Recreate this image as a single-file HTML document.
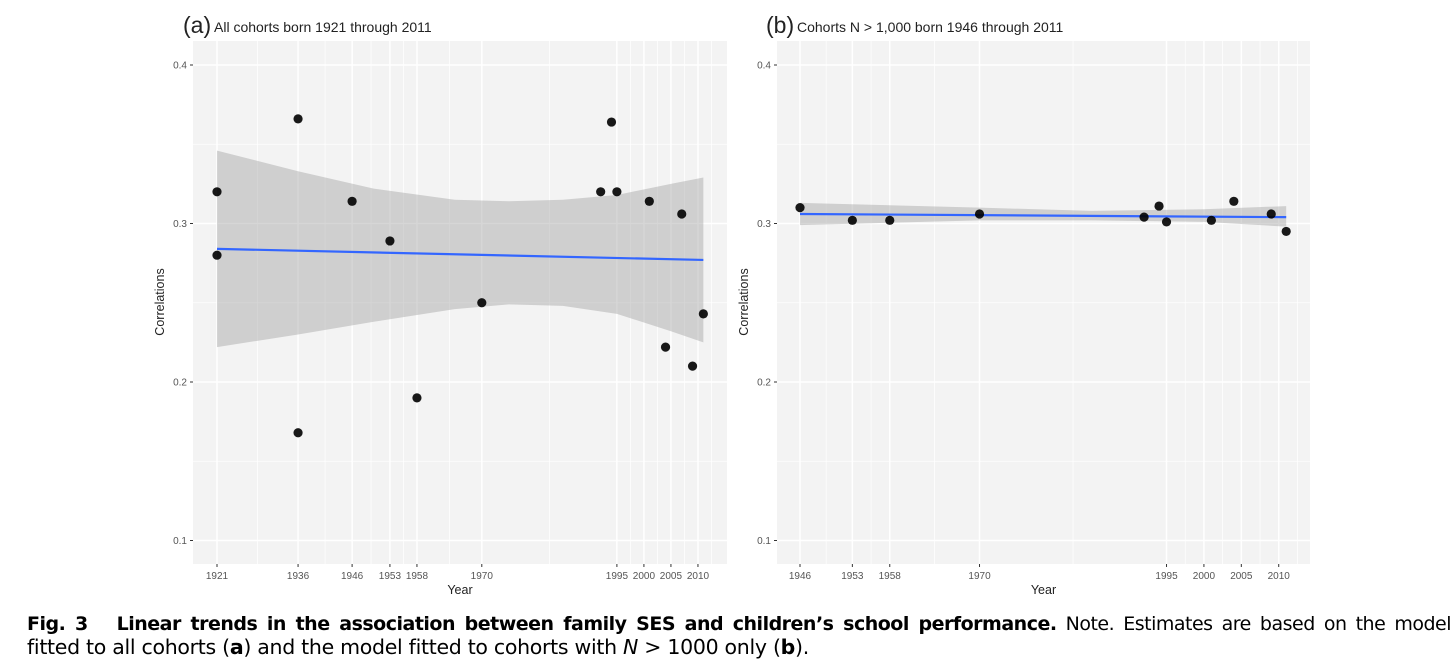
<!DOCTYPE html>
<html><head><meta charset="utf-8">
<style>
body{margin:0;background:#fff;width:1456px;height:672px;overflow:hidden;font-family:"Liberation Sans",sans-serif;}
#cap{position:absolute;left:27px;top:613px;width:1424px;line-height:23px;color:#000;font-family:"DejaVu Sans","Liberation Sans",sans-serif;letter-spacing:-0.3px}
#cap .l1{text-align:justify;text-align-last:justify;white-space:nowrap}
</style></head><body>
<svg id="chart" width="1456" height="600" style="position:absolute;left:0;top:0"></svg>
<div id="cap">
<div class="l1" style="font-size:19px;letter-spacing:-0.5px"><b>Fig. 3&nbsp;&nbsp;&nbsp;Linear trends in the association between family SES and children’s school performance.</b> Note. Estimates are based on the model</div>
<div style="font-size:20.5px">fitted to all cohorts (<b>a</b>) and the model fitted to cohorts with <i>N</i> &gt; 1000 only (<b>b</b>).</div>
</div>
<script>
// Panel A data
const aBreaks=[1921,1936,1946,1953,1958,1970,1995,2000,2005,2010];
const aYears=[1921,1921,1936,1936,1946,1953,1958,1970,1992,1994,1995,2001,2004,2007,2009,2011];
const aVals=[0.320,0.280,0.366,0.168,0.314,0.289,0.190,0.250,0.320,0.364,0.320,0.314,0.222,0.306,0.210,0.243];
const aFitYears=[1921,2011];
const aFitVals=[0.284,0.277];
const aBandYears=[1921,1936,1950,1965,1975,1985,1995,2005,2011];
const aBandUpper=[0.346,0.333,0.322,0.315,0.314,0.315,0.318,0.325,0.329];
const aBandLower=[0.222,0.230,0.238,0.246,0.249,0.248,0.243,0.232,0.225];
// Panel B data
const bBreaks=[1946,1953,1958,1970,1995,2000,2005,2010];
const bYears=[1946,1953,1958,1970,1992,1994,1995,2001,2004,2009,2011];
const bVals=[0.310,0.302,0.302,0.306,0.304,0.311,0.301,0.302,0.314,0.306,0.295];
const bFitYears=[1946,2011];
const bFitVals=[0.306,0.304];
const bBandYears=[1946,1970,1985,2000,2011];
const bBandUpper=[0.313,0.310,0.308,0.309,0.311];
const bBandLower=[0.299,0.302,0.302,0.301,0.298];
const yTicks=[0.1,0.2,0.3,0.4];
const yMinor=[0.15,0.25,0.35];

const NS="http://www.w3.org/2000/svg";
const svg=document.getElementById('chart');
function mk(t,a,p){const e=document.createElementNS(NS,t);for(const k in a)e.setAttribute(k,a[k]);(p||svg).appendChild(e);return e;}

function panel(o){
  const g=mk('g',{});
  
  
  const X=v=>o.x0+(v-o.v0)*o.k;
  const Y=v=>223.5-(v-0.3)*1585;
  const bg=mk('rect',{x:o.L,y:41,width:o.R-o.L,height:523,fill:'#ebebeb','fill-opacity':0.6},g);
  
  const br=o.breaks;const minors=[];
  for(let i=0;i<br.length-1;i++)minors.push((br[i]+br[i+1])/2);
  minors.push(br[br.length-1]+(br[br.length-1]-br[br.length-2])/2);
  minors.forEach(m=>{const x=X(m);if(x>o.L&&x<o.R){const l=mk('line',{x1:x,x2:x,y1:41,y2:564,stroke:'#fff','stroke-width':0.7},g);}});
  yMinor.forEach(m=>{const l=mk('line',{x1:o.L,x2:o.R,y1:Y(m),y2:Y(m),stroke:'#fff','stroke-width':0.7},g);});
  br.forEach(b=>{const x=X(b);const l=mk('line',{x1:x,x2:x,y1:41,y2:564,stroke:'#fff','stroke-width':1.5},g);
    const t=mk('line',{x1:x,x2:x,y1:564,y2:567,stroke:'#333','stroke-width':1},g);
    const tx=mk('text',{x:x,y:579,'text-anchor':'middle','font-size':10,fill:'#555'},g);tx.textContent=b;});
  yTicks.forEach(v=>{const y=Y(v);const l=mk('line',{x1:o.L,x2:o.R,y1:y,y2:y,stroke:'#fff','stroke-width':1.5},g);
    const t=mk('line',{x1:o.L-3,x2:o.L,y1:y,y2:y,stroke:'#333'},g);
    const tx=mk('text',{x:o.L-6,y:y+3.5,'text-anchor':'end','font-size':10,fill:'#555'},g);tx.textContent=v.toFixed(1);});
  let d='';o.bandX.forEach((v,i)=>{d+=(i?'L':'M')+X(v)+','+Y(o.bandU[i]);});
  for(let i=o.bandX.length-1;i>=0;i--)d+='L'+X(o.bandX[i])+','+Y(o.bandLo[i]);
  const band=mk('path',{d:d+'Z',fill:'#999','fill-opacity':0.4},g);
  const fl=mk('line',{x1:X(o.fitX[0]),y1:Y(o.fitV[0]),x2:X(o.fitX[1]),y2:Y(o.fitV[1]),stroke:'#3366ff','stroke-width':2.2},g);
  
  o.px.forEach((v,i)=>{const c=mk('circle',{cx:X(v),cy:Y(o.pv[i]),r:4.6,fill:'#000','fill-opacity':0.9},g);});
  const xt=mk('text',{x:(o.L+o.R)/2,y:594,'text-anchor':'middle','font-size':12.5,fill:'#222'},g);xt.textContent='Year';
  const yt=mk('text',{x:0,y:0,'text-anchor':'middle','font-size':12.5,fill:'#222',transform:`translate(${o.L-29},302) rotate(-90)`},g);yt.textContent='Correlations';
  const tl=mk('text',{x:o.tx,y:33,'font-size':23,fill:'#222'},g);tl.textContent=o.letter;
  const tt=mk('text',{x:o.tx+31,y:32,'font-size':14,fill:'#222'},g);tt.textContent=o.title;
}
panel({name:'panel-a',L:193,R:727,x0:217,v0:1921,k:5.404,breaks:aBreaks,px:aYears,pv:aVals,fitX:aFitYears,fitV:aFitVals,bandX:aBandYears,bandU:aBandUpper,bandLo:aBandLower,tx:183,letter:'(a)',title:'All cohorts born 1921 through 2011'});
panel({name:'panel-b',L:777,R:1310,x0:800,v0:1946,k:7.48,breaks:bBreaks,px:bYears,pv:bVals,fitX:bFitYears,fitV:bFitVals,bandX:bBandYears,bandU:bBandUpper,bandLo:bBandLower,tx:766,letter:'(b)',title:'Cohorts N > 1,000 born 1946 through 2011'});
</script>
</body></html>
